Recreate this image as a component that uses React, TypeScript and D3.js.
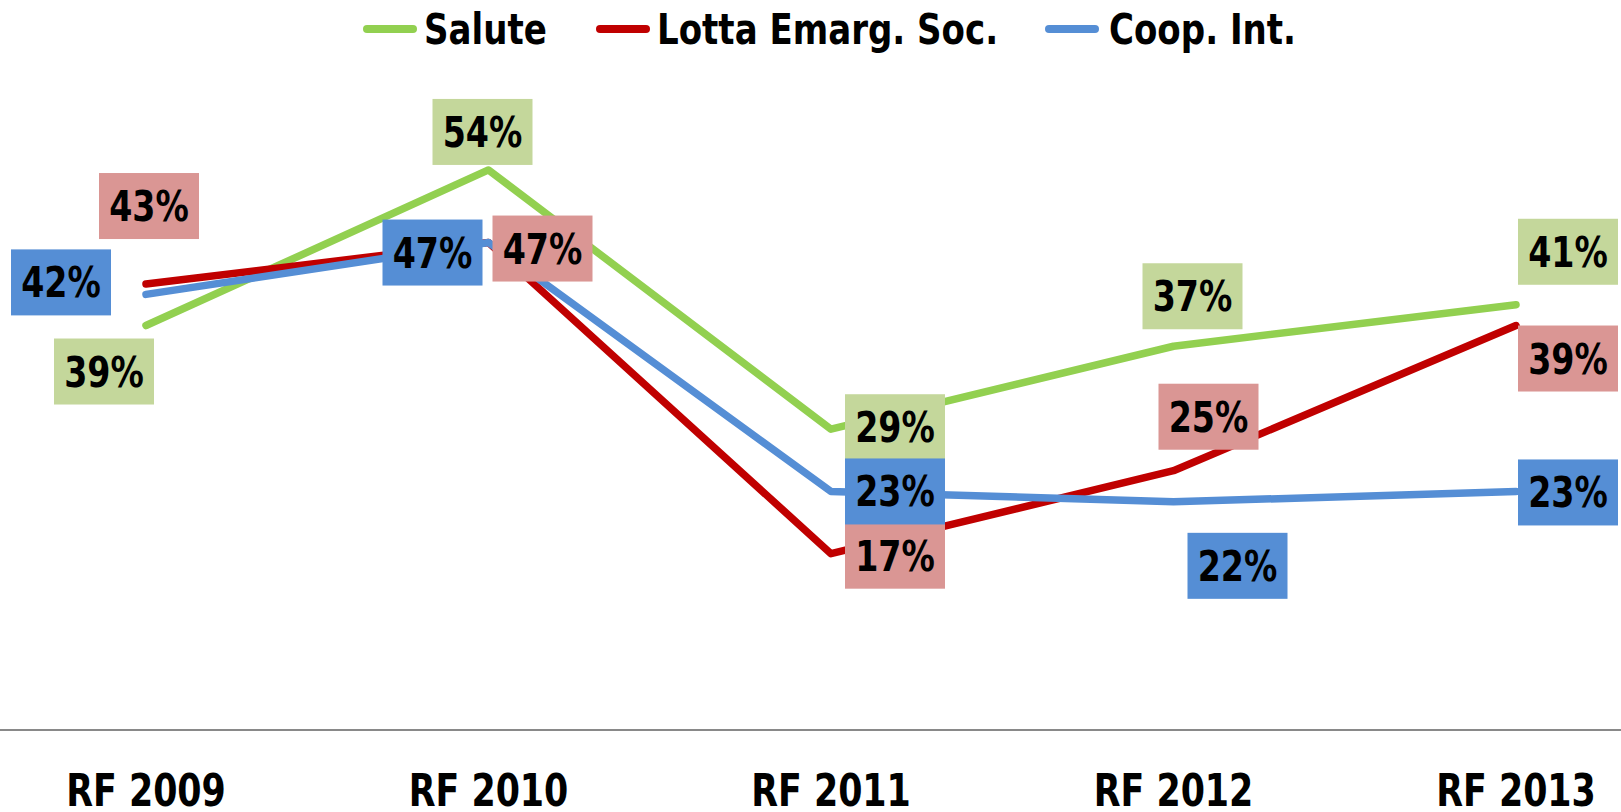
import React from "react";
import * as d3 from "d3";

const categories = ["RF 2009", "RF 2010", "RF 2011", "RF 2012", "RF 2013"];
const seriesNames = ["Salute", "Lotta Emarg. Soc.", "Coop. Int."];
const saluteValues = [0.39, 0.54, 0.29, 0.37, 0.41];
const lottaValues = [0.43, 0.47, 0.17, 0.25, 0.39];
const coopValues = [0.42, 0.47, 0.23, 0.22, 0.23];

// layout/style (not data)
const W = 1621;
const H = 812;
const lineColors = ["#92D050", "#C00000", "#558ED5"];
const boxColors = ["#C4D79B", "#DA9694", "#558ED5"];
const labelOffsets = [
  [[-42, 46], [-6, -38], [64, -2], [19, -50], [52, -53]],
  [[3, -78], [54, 6], [64, 2], [35, -54], [52, 33]],
  [[-85, -12], [-56, 10], [64, 0], [64, 64], [52, 1]],
];
const FONT = "'DejaVu Sans Condensed', 'DejaVu Sans', sans-serif";
const SX = 0.88;

function NarrowText(props: {
  x: number;
  y: number;
  size: number;
  anchor?: "start" | "middle" | "end";
  children: React.ReactNode;
}) {
  return (
    <g transform={`translate(${props.x},${props.y}) scale(${SX},1)`}>
      <text
        x={0}
        y={0}
        textAnchor={props.anchor ?? "start"}
        fontSize={props.size}
        fill="#000"
        fontFamily={FONT}
        fontWeight="bold"
      >
        {props.children}
      </text>
    </g>
  );
}

export default function App() {
  const x = d3.scalePoint<string>().domain(categories).range([146, 1516]);
  const y = d3.scaleLinear().domain([0, 0.7]).range([730, 4]);
  const allSeries = [saluteValues, lottaValues, coopValues];
  const line = d3
    .line<number>()
    .x((_, i) => x(categories[i]) as number)
    .y((d) => y(d));
  const fmt = d3.format(".0%");
  const legendItems = [
    { lx: 367, tx: 424 },
    { lx: 600, tx: 657 },
    { lx: 1049, tx: 1109 },
  ];
  const boxW = 100;
  const boxH = 66;
  return (
    <svg
      width={W}
      height={H}
      style={{ position: "absolute", left: 0, top: 0, background: "#fff" }}
    >
      <rect x={0} y={0} width={W} height={H} fill="#fff" />
      {/* legend */}
      {seriesNames.map((name, i) => (
        <g key={name}>
          <line
            x1={legendItems[i].lx}
            x2={legendItems[i].lx + 46}
            y1={29}
            y2={29}
            stroke={lineColors[i]}
            strokeWidth={8}
            strokeLinecap="round"
          />
          <NarrowText x={legendItems[i].tx} y={44} size={43}>
            {name}
          </NarrowText>
        </g>
      ))}
      {/* axis */}
      <line x1={0} x2={W} y1={y(0)} y2={y(0)} stroke="#898989" strokeWidth={2} />
      {categories.map((c) => (
        <NarrowText key={c} x={x(c) as number} y={806} size={44} anchor="middle">
          {c}
        </NarrowText>
      ))}
      {/* lines */}
      {allSeries.map((vals, i) => (
        <path
          key={i}
          d={line(vals) as string}
          fill="none"
          stroke={lineColors[i]}
          strokeWidth={7.5}
          strokeLinecap="round"
          strokeLinejoin="round"
        />
      ))}
      {/* labels */}
      {allSeries.map((vals, i) =>
        vals.map((v, j) => {
          const cx = (x(categories[j]) as number) + labelOffsets[i][j][0];
          const cy = y(v) + labelOffsets[i][j][1];
          return (
            <g key={`${i}-${j}`}>
              <rect x={cx - boxW / 2} y={cy - boxH / 2} width={boxW} height={boxH} fill={boxColors[i]} />
              <NarrowText x={cx} y={cy + 15} size={42} anchor="middle">
                {fmt(v)}
              </NarrowText>
            </g>
          );
        })
      )}
    </svg>
  );
}
